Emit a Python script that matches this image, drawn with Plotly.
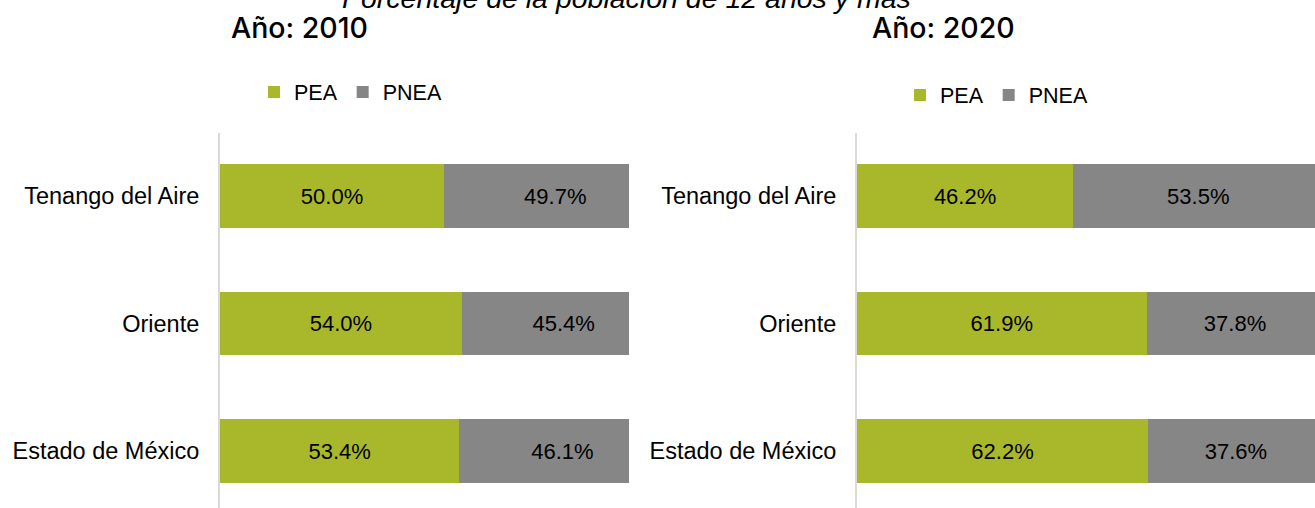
import plotly.graph_objects as go

categories = ["Estado de México", "Oriente", "Tenango del Aire"]
pea_2010 = [53.4, 54.0, 50.0]
pnea_2010 = [46.1, 45.4, 49.7]
pea_2020 = [62.2, 61.9, 46.2]
pnea_2020 = [37.6, 37.8, 53.5]

GREEN = "#A8B82A"
GREY = "#868686"
W, H = 1315, 508
FAM = "Liberation Sans, Arial, sans-serif"
TICK = dict(family=FAM, size=23.5, color="#000000")
DATA = dict(family=FAM, size=22, color="#000000")
LEG = dict(family=FAM, size=21.5, color="#000000")

fig = go.Figure()

def add(xs, name, color, xa, ya, legend):
    fig.add_trace(go.Bar(
        y=categories, x=xs, name=name, orientation="h",
        marker=dict(color=color, line=dict(width=0)),
        texttemplate="%{x:.1f}%", textposition="inside", insidetextanchor="middle",
        textfont=DATA, insidetextfont=DATA, constraintext="none",
        xaxis=xa, yaxis=ya, legend=legend, showlegend=True, width=0.5,
    ))

add(pea_2010, "PEA", GREEN, "x", "y", "legend")
add(pnea_2010, "PNEA", GREY, "x", "y", "legend")
add(pea_2020, "PEA", GREEN, "x2", "y2", "legend2")
add(pnea_2020, "PNEA", GREY, "x2", "y2", "legend2")

ydom = [0, 1 - 133 / H]
yrng = [-0.447, 2.495]
common_y = dict(type="category", range=yrng, domain=ydom, showline=True, linecolor="#d9d9d9",
                linewidth=2, showgrid=False, zeroline=False, ticks="", ticklabelstandoff=14,
                tickfont=TICK, fixedrange=True)

fig.update_layout(
    width=W, height=H, margin=dict(l=0, r=0, t=0, b=0),
    paper_bgcolor="white", plot_bgcolor="white",
    barmode="stack", bargap=0.5, showlegend=True,
    xaxis=dict(domain=[220 / W, 629 / W], range=[0, 91.3], visible=False, fixedrange=True),
    xaxis2=dict(domain=[857 / W, 1.0], range=[0, 97.9], visible=False, anchor="y2", fixedrange=True),
    yaxis=dict(anchor="x", **common_y),
    yaxis2=dict(anchor="x2", **common_y),
    legend=dict(orientation="h", x=(276 - 22) / W, xanchor="left", y=1 - 92 / H, yanchor="middle",
                font=LEG, itemwidth=30, traceorder="normal", bgcolor="rgba(0,0,0,0)"),
    legend2=dict(orientation="h", x=(922 - 22) / W, xanchor="left", y=1 - 95 / H, yanchor="middle",
                 font=LEG, itemwidth=30, traceorder="normal", bgcolor="rgba(0,0,0,0)"),
    annotations=[
        dict(text="<i>Porcentaje de la población de 12 años y más</i>", xref="paper", yref="paper",
             x=626 / W, y=1 + 2 / H, xanchor="center", yanchor="middle", showarrow=False,
             font=dict(family=FAM, size=28.5, color="#000000")),
        dict(text="Año: 2010", xref="paper", yref="paper", x=229 / W, y=1 - 27 / H,
             xanchor="left", yanchor="middle", showarrow=False,
             font=dict(family="Inter, Lato, sans-serif", size=28.5, weight=500, color="#000000")),
        dict(text="Año: 2020", xref="paper", yref="paper", x=870 / W, y=1 - 27 / H,
             xanchor="left", yanchor="middle", showarrow=False,
             font=dict(family="Inter, Lato, sans-serif", size=28.5, weight=500, color="#000000")),
    ],
)

fig.write_html("out.html", config={"displayModeBar": False},
               post_script="document.body.style.margin='0';document.body.style.padding='0';")
